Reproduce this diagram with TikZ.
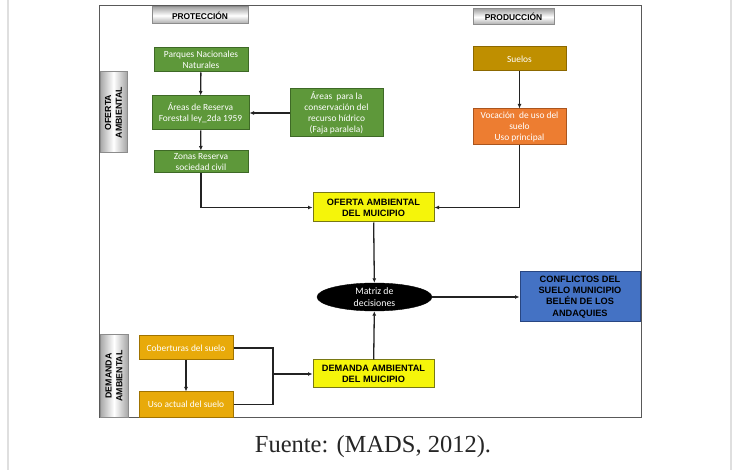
\documentclass[tikz,border=0pt]{standalone}
\usepackage{fontspec}
\setmainfont{Carlito}
\newfontfamily\hdr{Liberation Sans}
\newfontfamily\capfont{Liberation Serif}
\usetikzlibrary{shapes.geometric,arrows.meta}

\definecolor{grn}{RGB}{94,152,58}
\definecolor{grnd}{RGB}{62,105,38}
\definecolor{gold}{RGB}{191,143,0}
\definecolor{goldd}{RGB}{140,104,0}
\definecolor{orng}{RGB}{237,125,49}
\definecolor{orngd}{RGB}{170,85,30}
\definecolor{amber}{RGB}{232,170,10}
\definecolor{amberd}{RGB}{160,115,0}
\definecolor{ylw}{RGB}{245,245,10}
\definecolor{ylwd}{RGB}{120,120,20}
\definecolor{blu}{RGB}{68,114,196}
\definecolor{blud}{RGB}{40,70,130}
\definecolor{lnk}{RGB}{35,35,35}

\tikzset{
  box/.style={rectangle, draw, line width=1pt, inner sep=1pt, align=center,
    font=\fontsize{9.4}{11.2}\selectfont, text=white},
  greenbox/.style={box, fill=grn, draw=grnd},
  goldbox/.style={box, fill=gold, draw=goldd},
  orangebox/.style={box, fill=orng, draw=orngd},
  amberbox/.style={box, fill=amber, draw=amberd},
  keybox/.style={box, fill=ylw, draw=ylwd, text=black,
    font=\hdr\bfseries\fontsize{9.2}{11}\selectfont},
  resultbox/.style={box, fill=blu, draw=blud, text=black,
    font=\hdr\bfseries\fontsize{9.2}{11.2}\selectfont},
  hlabel/.style={rectangle, draw=gray!90, line width=1pt, inner sep=1pt,
    top color=gray!70, bottom color=gray!70, middle color=white,
    font=\hdr\bfseries\fontsize{8.4}{10}\selectfont, align=center},
  vlabel/.style={rectangle, draw=gray!90, line width=1pt, inner sep=1pt,
    left color=gray!70, right color=gray!70, middle color=white,
    font=\hdr\bfseries\fontsize{8.8}{10.8}\selectfont, align=center, rotate=90},
  arr/.style={draw=lnk, line width=1.3pt, -{Latex[length=4.5pt,width=4pt]}},
  plain/.style={draw=lnk, line width=1.3pt}
}

\begin{document}
\begin{tikzpicture}[x=1pt,y=-1pt]
\useasboundingbox (0,0) rectangle (742,470);
\fill[white] (0,0) rectangle (742,470);

% page edges
\draw[gray!25, line width=1.5pt] (8,0) -- (8,470);
\draw[gray!25, line width=1.5pt] (731,0) -- (731,470);

% figure frame
\draw[gray!70!black, line width=1pt] (99,6) rectangle (641,417);

% section labels
\node[hlabel, minimum width=96pt, minimum height=17pt] (prot) at (200,15.5) {PROTECCIÓN};
\node[hlabel, minimum width=81pt, minimum height=16pt] (prod) at (513.5,17) {PRODUCCIÓN};
\node[vlabel, minimum width=81pt, minimum height=27pt] (oflbl) at (113.5,112.5) {OFERTA\\AMBIENTAL};
\node[vlabel, minimum width=82pt, minimum height=28pt] (dmlbl) at (114,376) {DEMANDA\\AMBIENTAL};

% protection branch
\node[greenbox, minimum width=94pt, minimum height=24pt] (parques) at (201,60) {Parques Nacionales\\Naturales};
\node[greenbox, minimum width=97pt, minimum height=34pt] (reserva) at (200.5,113) {Áreas de Reserva\\Forestal ley\_2da 1959};
\node[greenbox, minimum width=94pt, minimum height=22pt] (zonas) at (201,162) {Zonas Reserva\\sociedad civil};
\node[greenbox, minimum width=93pt, minimum height=48pt] (conserv) at (336.5,113) {Áreas~ para la\\conservación del\\recurso hídrico\\(Faja paralela)};

% production branch
\node[goldbox, minimum width=93pt, minimum height=24pt] (suelos) at (519.5,59) {Suelos};
\node[orangebox, minimum width=93pt, minimum height=36pt] (vocac) at (519.5,127) {Vocación~ de uso del\\suelo\\Uso principal};

% central nodes
\node[keybox, minimum width=121pt, minimum height=29pt] (oferta) at (373.5,207.5) {OFERTA AMBIENTAL\\DEL MUICIPIO};
\node[ellipse, fill=black, draw=black, text=white, inner sep=0pt,
      minimum width=115pt, minimum height=28pt, align=center,
      font=\fontsize{9.8}{12.5}\selectfont] (matriz) at (374.5,297) {Matriz de\\decisiones};
\node[resultbox, minimum width=120pt, minimum height=50pt] (conflict) at (580,297) {CONFLICTOS DEL\\SUELO MUNICIPIO\\BELÉN DE LOS\\ANDAQUIES};
\node[keybox, minimum width=121pt, minimum height=28pt] (demanda) at (373.5,374) {DEMANDA AMBIENTAL\\DEL MUICIPIO};

% demand branch
\node[amberbox, minimum width=94pt, minimum height=24pt] (cober) at (186,348) {Coberturas del suelo};
\node[amberbox, minimum width=94pt, minimum height=25pt] (uso) at (186,404.5) {Uso actual del suelo};
\coordinate (jn) at (273,374);

% connectors
\draw[arr] (parques) -- (reserva);
\draw[arr] (reserva) -- (zonas);
\draw[arr] (conserv) -- (reserva);
\draw[arr] (suelos) -- (vocac);
\draw[arr] (zonas.south) |- (oferta.west);
\draw[arr] (vocac.south) |- (oferta.east);
\draw[arr] (oferta) -- (matriz);
\draw[arr] (demanda) -- (matriz);
\draw[arr] (matriz) -- (conflict);
\draw[arr] (cober) -- (uso);
\draw[plain] (cober.east) -| (jn);
\draw[plain] (uso.east) -| (jn);
\draw[arr] (jn) -- (demanda.west);

% caption
\node[font=\capfont\fontsize{24.5}{28}\selectfont, text=black!85, inner sep=0pt] (fuente) at (373,447) {Fuente: (MADS, 2012).};
\end{tikzpicture}
\end{document}
